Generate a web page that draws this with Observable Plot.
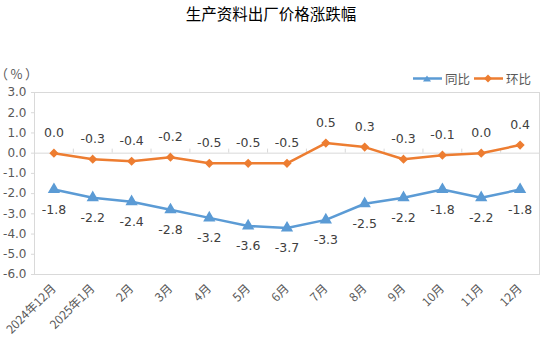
<!DOCTYPE html>
<html>
<head>
<meta charset="utf-8">
<script src="https://cdn.jsdelivr.net/npm/d3@7"></script>
<script src="https://cdn.jsdelivr.net/npm/@observablehq/plot@0.6"></script>
<style>
  html, body { margin: 0; padding: 0; background: #fff; }
  body { width: 542px; height: 348px; position: relative; overflow: hidden;
         font-family: "DejaVu Sans", "Noto Sans CJK SC", sans-serif; }
  #chart { position: absolute; left: 0; top: 0; }
  .title { position: absolute; left: 0; width: 542px; top: 2px; text-align: center;
           font-size: 15.5px; color: #000; font-family: "Noto Sans CJK SC", sans-serif; }
  .unit { position: absolute; left: 1px; top: 64px; font-size: 13px; color: #595959;
          font-family: "Noto Sans CJK SC", sans-serif; white-space: nowrap;
          font-feature-settings: "palt"; letter-spacing: 3px; }
  .legend { position: absolute; top: 69px; left: 413px; display: flex; align-items: center;
            font-size: 12.5px; color: #595959; font-family: "Noto Sans CJK SC", sans-serif; }
  .legend .item { display: flex; align-items: center; margin-right: 4px; }
  .legend svg { margin-right: 3px; }
</style>
</head>
<body>
<div id="chart"></div>
<div class="title">生产资料出厂价格涨跌幅</div>
<div class="unit">（%）</div>
<div class="legend" id="legend"></div>
<script>
const months = ["2024年12月", "2025年1月", "2月", "3月", "4月", "5月", "6月", "7月", "8月", "9月", "10月", "11月", "12月"];
const yoy = [-1.8, -2.2, -2.4, -2.8, -3.2, -3.6, -3.7, -3.3, -2.5, -2.2, -1.8, -2.2, -1.8];
const mom = [0.0, -0.3, -0.4, -0.2, -0.5, -0.5, -0.5, 0.5, 0.3, -0.3, -0.1, 0.0, 0.4];
const yTicks = [3, 2, 1, 0, -1, -2, -3, -4, -5, -6];
const seriesNames = ["同比", "环比"];
const colors = ["#5B9BD5", "#ED7D31"];

const yoyData = months.map((m, i) => ({month: m, value: yoy[i]}));
const momData = months.map((m, i) => ({month: m, value: mom[i]}));

const W = 542, H = 348, ML = 34, MR = 3, MT = 92, MB = 74;
const step = (W - ML - MR) / months.length;

const chart = Plot.plot({
  width: W, height: H,
  marginLeft: ML, marginRight: MR, marginTop: MT, marginBottom: MB,
  style: {fontFamily: '"DejaVu Sans", "Noto Sans CJK SC", sans-serif', fontSize: "12px", color: "#595959", background: "#fff"},
  x: {type: "point", domain: months, padding: 0.5, round: false},
  y: {domain: [-6, 3]},
  marks: [
    Plot.frame({stroke: "#d9d9d9"}),
    Plot.ruleY([0], {stroke: "#d9d9d9"}),
    Plot.ruleX(months.slice(1), {x: d => d, y1: 0, y2: 0.2, dx: -step / 2, stroke: "#d9d9d9"}),
    Plot.axisY({ticks: yTicks, tickFormat: d => d.toFixed(1), tickSize: 3, tickPadding: 5, stroke: "#d9d9d9", fill: "#595959", fontSize: 12, label: null}),
    Plot.axisX({tickRotate: -45, tickSize: 0, tickPadding: 12, fill: "#595959", fontSize: 12, label: null, fontFamily: '"Noto Sans CJK SC", sans-serif'}),
    Plot.line(yoyData, {x: "month", y: "value", stroke: colors[0], strokeWidth: 2.5}),
    Plot.dot(yoyData, {x: "month", y: "value", symbol: "triangle", fill: colors[0], stroke: colors[0], r: 3.6}),
    Plot.line(momData, {x: "month", y: "value", stroke: colors[1], strokeWidth: 2.5}),
    Plot.dot(momData, {x: "month", y: "value", symbol: "diamond2", fill: colors[1], stroke: colors[1], r: 3.2}),
    Plot.text(yoyData, {x: "month", y: "value", text: d => d.value.toFixed(1), dy: 20, fill: "#404040", fontSize: 12.5}),
    Plot.text(momData, {x: "month", y: "value", text: d => d.value.toFixed(1), dy: -20, fill: "#404040", fontSize: 12.5})
  ]
});
document.getElementById("chart").appendChild(chart);

const legend = document.getElementById("legend");
const markers = [
  '<path d="M14,2.5 L18,8.5 L10,8.5 Z" fill="' + colors[0] + '"/>',
  '<path d="M14,1.5 L18,5.5 L14,9.5 L10,5.5 Z" fill="' + colors[1] + '"/>'
];
seriesNames.forEach((name, i) => {
  const item = document.createElement("div");
  item.className = "item";
  item.innerHTML = '<svg width="29" height="11"><line x1="0" x2="29" y1="5.5" y2="5.5" stroke="' + colors[i] + '" stroke-width="2.5"/>' + markers[i] + '</svg><span>' + name + '</span>';
  legend.appendChild(item);
});
</script>
</body>
</html>
